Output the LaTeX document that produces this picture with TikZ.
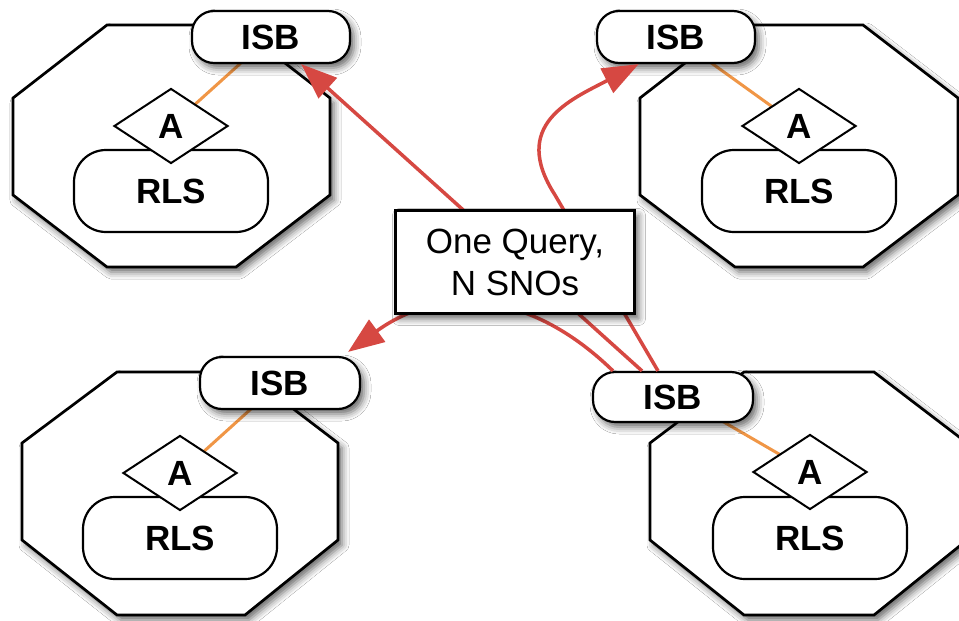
\documentclass[tikz,border=0pt]{standalone}
\usepackage{fontspec}
\setmainfont{Liberation Sans}
\usetikzlibrary{arrows.meta,calc,shapes.geometric,shadows.blur}
\definecolor{qred}{RGB}{214,72,66}
\definecolor{qorange}{RGB}{240,150,70}
\tikzset{
 shd/.style={blur shadow={shadow xshift=4pt,shadow yshift=-5pt,shadow blur radius=7pt,shadow opacity=60}},
 octa/.style={draw=black,line width=2.7pt,fill=white,shd},
 lbl/.style={font=\fontsize{35}{40}\selectfont\bfseries},
 isb/.style={lbl,draw=black,line width=2.2pt,fill=white,rounded corners=22pt,minimum width=158pt,minimum height=52pt,inner sep=0pt,shd},
 rls/.style={lbl,draw=black,line width=2.2pt,fill=white,rounded corners=32pt,minimum width=194pt,minimum height=82pt,inner sep=0pt},
 agent/.style={lbl,draw=black,line width=2pt,fill=white,diamond,aspect=1.52,minimum width=114pt,minimum height=75pt,inner sep=0pt},
 link/.style={qorange,line width=3pt},
 query/.style={qred,line width=3.5pt,-{Triangle[length=36pt,width=27pt]}},
 note/.style={draw=black,line width=3pt,fill=white,minimum width=239pt,minimum height=103pt,inner sep=0pt,align=center,font=\fontsize{35}{42}\selectfont,shd}
}
\begin{document}
\begin{tikzpicture}[x=1pt,y=-1pt]
\useasboundingbox (0,0) rectangle (959,621);
\clip (0,0) rectangle (959,621);
\fill[white] (0,0) rectangle (959,621);
% octagons
\path[octa] (107,25) -- (236,25) -- (330,98) -- (330,195) -- (236,267) -- (107,267) -- (13,195) -- (13,98) -- cycle;
\path[octa] (734,25) -- (863,25) -- (958,98) -- (958,195) -- (863,267) -- (735,267) -- (640,195) -- (640,98) -- cycle;
\path[octa] (117,372) -- (245,372) -- (338,443) -- (338,540) -- (245,615) -- (117,615) -- (22,540) -- (22,443) -- cycle;
\path[octa] (744,372) -- (874,372) -- (967,443) -- (967,540) -- (874,615) -- (744,615) -- (650,540) -- (650,443) -- cycle;
% RLS
\node[rls] (rlsTL) at (171,191) {RLS};
\node[rls] (rlsTR) at (799,191) {RLS};
\node[rls] (rlsBL) at (180,538) {RLS};
\node[rls] (rlsBR) at (810,538) {RLS};
% link end points
\coordinate (cTL) at (171,126);
\coordinate (cTR) at (799,126);
\coordinate (cBL) at (180,473);
\coordinate (cBR) at (810,472);
\coordinate (jTL) at (242,62);
\coordinate (jTR) at (710,62);
\coordinate (jBL) at (252,408);
\coordinate (jBR) at (722,421);
\draw[link] (jTL) -- (cTL);
\draw[link] (jTR) -- (cTR);
\draw[link] (jBL) -- (cBL);
\draw[link] (jBR) -- (cBR);
% agents
\node[agent] (aTL) at (cTL) {A};
\node[agent] (aTR) at (cTR) {A};
\node[agent] (aBL) at (cBL) {A};
\node[agent] (aBR) at (cBR) {A};
% ISB
\node[isb] (isbTL) at (271,37) {ISB};
\node[isb] (isbTR) at (676,37) {ISB};
\node[isb,minimum width=160pt] (isbBL) at (280,383) {ISB};
\node[isb,minimum width=160pt,minimum height=50pt] (isbBR) at (673,397) {ISB};
% queries
\draw[query] ($(isbBR.north)+(-31,0)$) -- (isbTL.-42);
\draw[query] ($(isbBR.north)+(-15,0)$) -- (555,195) .. controls (510,125) and (570,100) .. (isbTR.-144);
\draw[query] ($(isbBR.north)+(-60,0)$) .. controls (530,290) and (440,285) .. ($(isbBL.north east)+(-13,-4)$);
% note
\node[note] (note) at (515,262) {One Query,\\N SNOs};
\end{tikzpicture}
\end{document}
